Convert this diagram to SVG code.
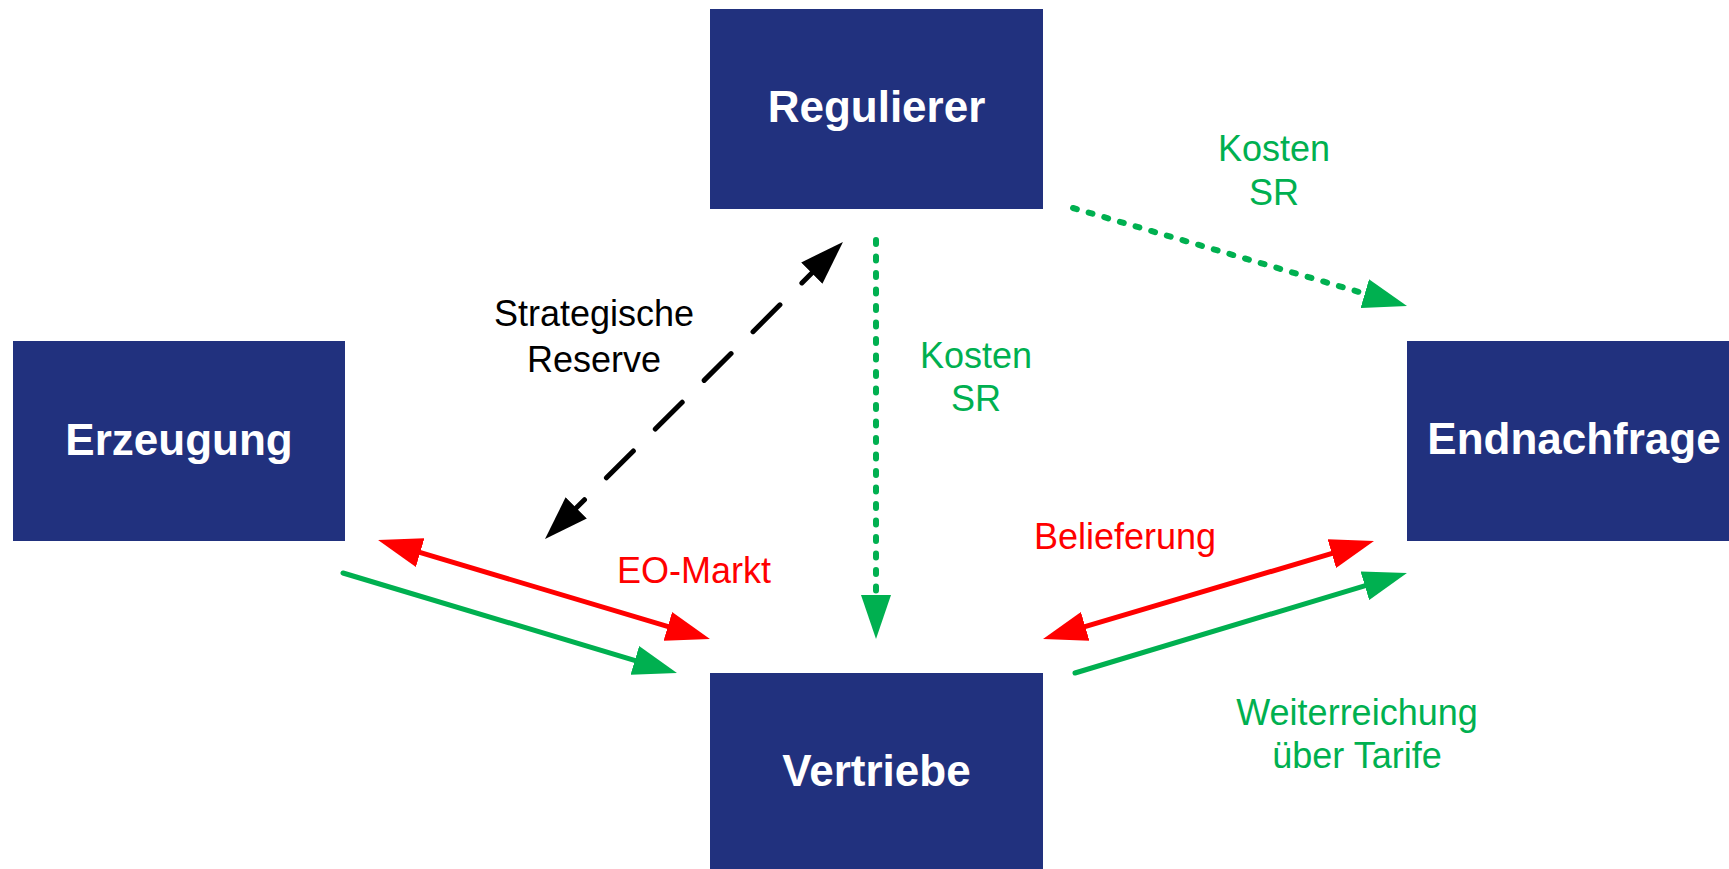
<svg xmlns="http://www.w3.org/2000/svg" width="1729" height="869" viewBox="0 0 1729 869">
<style>
.box{fill:#21317E}
.title{font-family:"Liberation Sans",Arial,sans-serif;font-size:44px;font-weight:bold;fill:#FFFFFF;text-anchor:middle}
.lbl{font-family:"Liberation Sans",Arial,sans-serif;font-size:36px;text-anchor:middle}
.g{fill:#00B050}
.r{fill:#FF0000}
.k{fill:#000000}
.ln{fill:none;stroke-width:5;stroke-linecap:round}
.dot{stroke-width:6}
</style>
<defs>
<marker id="ah-k" markerUnits="userSpaceOnUse" viewBox="0 0 44 30" markerWidth="44" markerHeight="30" refX="24" refY="15" orient="auto-start-reverse"><path d="M0,0 L44,15 L0,30 z" fill="#000000"/></marker>
<marker id="ah-r" markerUnits="userSpaceOnUse" viewBox="0 0 44 30" markerWidth="44" markerHeight="30" refX="24" refY="15" orient="auto-start-reverse"><path d="M0,0 L44,15 L0,30 z" fill="#FF0000"/></marker>
<marker id="ah-g" markerUnits="userSpaceOnUse" viewBox="0 0 44 30" markerWidth="44" markerHeight="30" refX="24" refY="15" orient="auto-start-reverse"><path d="M0,0 L44,15 L0,30 z" fill="#00B050"/></marker>
</defs>
<rect width="1729" height="869" fill="#FFFFFF"/>
<g id="connectors">
<line class="ln" x1="828.8" y1="256.1" x2="559.2" y2="524.9" stroke="#000000" stroke-width="5.5" stroke-dasharray="38 31" marker-start="url(#ah-k)" marker-end="url(#ah-k)"/>
<line class="ln dot" x1="876" y1="240" x2="876" y2="619" stroke="#00B050" stroke-dasharray="4 12.5" marker-end="url(#ah-g)"/>
<line class="ln dot" x1="1073" y1="208" x2="1387.8" y2="300.4" stroke="#00B050" stroke-dasharray="4 12.3" marker-end="url(#ah-g)"/>
<line class="ln" x1="397.2" y1="545.7" x2="690.8" y2="633.3" stroke="#FF0000" marker-start="url(#ah-r)" marker-end="url(#ah-r)"/>
<line class="ln" x1="343" y1="573" x2="657.8" y2="667.3" stroke="#00B050" marker-end="url(#ah-g)"/>
<line class="ln" x1="1062.2" y1="633.3" x2="1354.8" y2="546.7" stroke="#FF0000" marker-start="url(#ah-r)" marker-end="url(#ah-r)"/>
<line class="ln" x1="1075" y1="673" x2="1387.8" y2="578.8" stroke="#00B050" marker-end="url(#ah-g)"/>
</g>
<g id="regulierer"><rect class="box" x="710" y="9" width="333" height="200"/><text class="title" x="876.5" y="122">Regulierer</text></g>
<g id="erzeugung"><rect class="box" x="13" y="341" width="332" height="200"/><text class="title" x="179" y="455">Erzeugung</text></g>
<g id="endnachfrage"><rect class="box" x="1407" y="341" width="333" height="200"/><text class="title" x="1574" y="454">Endnachfrage</text></g>
<g id="vertriebe"><rect class="box" x="710" y="673" width="333" height="200"/><text class="title" x="876.5" y="786">Vertriebe</text></g>
<g id="labels">
<text class="lbl k" x="594" y="326">Strategische</text>
<text class="lbl k" x="594" y="372">Reserve</text>
<text class="lbl g" x="1274" y="161">Kosten</text>
<text class="lbl g" x="1274" y="205">SR</text>
<text class="lbl g" x="976" y="368">Kosten</text>
<text class="lbl g" x="976" y="411">SR</text>
<text class="lbl r" x="694" y="583">EO-Markt</text>
<text class="lbl r" x="1125" y="549">Belieferung</text>
<text class="lbl g" x="1357" y="725">Weiterreichung</text>
<text class="lbl g" x="1357" y="768">über Tarife</text>
</g>
</svg>
